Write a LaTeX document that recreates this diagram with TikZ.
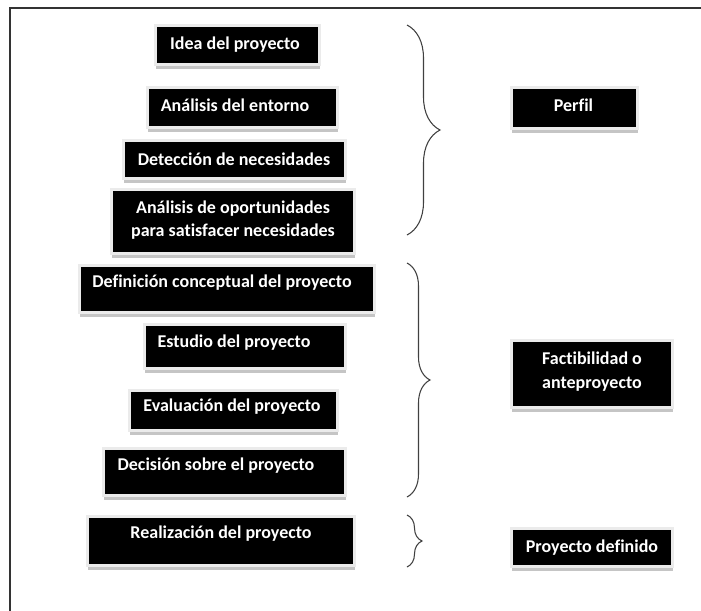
\documentclass[tikz,border=0pt]{standalone}
\usepackage{fontspec}
\setmainfont[Ligatures=NoCommon]{Carlito}
\usetikzlibrary{decorations.pathreplacing,shadows}

\tikzset{
  caja/.style={rectangle, fill=black, draw=black!8, line width=2.25pt,
    drop shadow={shadow xshift=0.6pt, shadow yshift=-3.4pt, fill=black!45}},
  texto/.style={text=white, font=\fontsize{13.5}{17.5}\selectfont\bfseries,
    align=center, inner sep=0pt},
  llave/.style={decorate, draw=black!75, line width=0.8pt}
}

\begin{document}
\begin{tikzpicture}[x=0.75pt,y=-0.75pt]

\useasboundingbox (0,0) rectangle (701,611);
\draw[line width=1.5pt, black!80] (10,611) -- (10,8) -- (701,8);

% cajas: nombre / centro / ancho / alto / desplazamiento del texto / texto
\foreach \n/\cx/\cy/\w/\h/\dx/\dy/\t in {
  idea/237.5/45/161/36/-2.5/0/Idea del proyecto,
  entorno/242.5/107.5/187/37/-7.5/-2.5/Análisis del entorno,
  necesidades/234.5/159.5/219/35/-0.5/0/Detección de necesidades,
  oportunidades/233/221.5/240/61/0/-1.5/Análisis de oportunidades\\para satisfacer necesidades,
  definicion/227/289/292/44/-5/-6/Definición conceptual del proyecto,
  estudio/245/346.5/198/41/-11/-3.5/Estudio del proyecto,
  evaluacion/233.5/410.5/205/37/-1.5/-3.5/Evaluación del proyecto,
  decision/224.5/472/239/44/-8.5/-6/Decisión sobre el proyecto,
  realizacion/221/541/264/46/0/-7/Realización del proyecto,
  perfil/574.5/108/123/38/-1/-3/Perfil,
  factibilidad/592/374/158/64/0/-2.5/Factibilidad o\\anteproyecto,
  definido/592/547.5/158/35/0/0/Proyecto definido}
{
  \node[caja, minimum width=\w*0.75pt+2.25pt, minimum height=\h*0.75pt+2.25pt] (\n) at (\cx,\cy) {};
  \node[texto] (\n-txt) at ([shift={(\dx,\dy)}]\n.center) {\t};
}

% llaves
\coordinate (a1) at (407,25);
\coordinate (a2) at (407,235);
\coordinate (b1) at (407,263);
\coordinate (b2) at (407,497);
\coordinate (c1) at (407,515);
\coordinate (c2) at (407,567);

\draw[llave, decoration={brace, amplitude=24.75pt}] (a1) -- (a2);
\draw[llave, decoration={brace, amplitude=17.25pt}] (b1) -- (b2);
\draw[llave, decoration={brace, amplitude=11.25pt}] (c1) -- (c2);

\end{tikzpicture}
\end{document}
